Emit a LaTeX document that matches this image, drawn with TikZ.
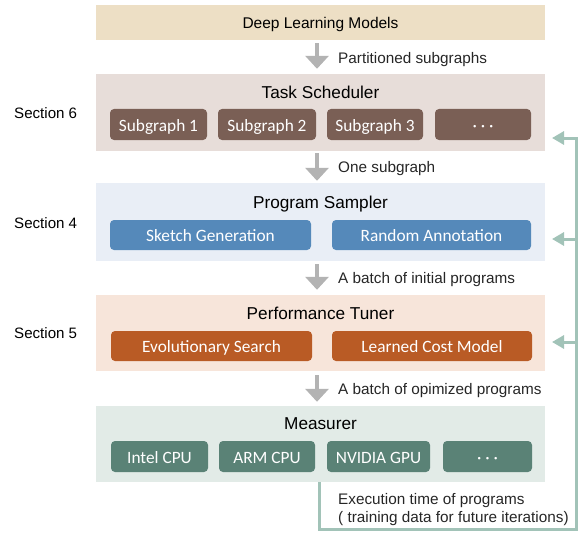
\documentclass[tikz,border=0pt]{standalone}
\usepackage{fontspec}
\setmainfont{Liberation Sans}
\newfontfamily\carlito{Carlito}
\usetikzlibrary{arrows.meta}
\definecolor{dlbg}{HTML}{EDDFC5}
\definecolor{tsbg}{HTML}{E7DDD9}
\definecolor{tssub}{HTML}{7A5F55}
\definecolor{psbg}{HTML}{E9EEF6}
\definecolor{pssub}{HTML}{5589BA}
\definecolor{ptbg}{HTML}{F7E5DA}
\definecolor{ptsub}{HTML}{B95B25}
\definecolor{msbg}{HTML}{E2EBE7}
\definecolor{mssub}{HTML}{5A8276}
\definecolor{fbcol}{HTML}{A2C3B8}
\definecolor{flowcol}{HTML}{B3B3B3}
\definecolor{labcol}{HTML}{262626}
\begin{document}
\begin{tikzpicture}[x=1pt,y=-1pt,
  layer/.style={draw=none, inner sep=0pt, minimum width=449pt},
  title/.style={anchor=base, inner sep=0pt, font=\fontsize{17.2}{20}\selectfont},
  sub/.style={rounded corners=4pt, inner sep=0pt, text height=13pt, text depth=0pt, text=white, font=\carlito\fontsize{17.3}{19}\selectfont},
  lab/.style={anchor=base west, inner sep=0pt, text=labcol, font=\fontsize{15.3}{18}\selectfont},
  flow/.style={draw=flowcol, line width=4pt, -{Triangle[length=13pt,width=23pt]}},
  fb/.style={draw=fbcol, line width=3pt},
  fbarrow/.style={draw=fbcol, line width=3pt, -{Triangle[length=12pt,width=13pt]}}
]
\useasboundingbox (0,0) rectangle (580,532);

% layers
\node[layer, fill=dlbg, minimum height=35pt] (dl) at (320.5,22.5) {};
\node[layer, fill=tsbg, minimum height=77pt] (ts) at (320.5,112.5) {};
\node[layer, fill=psbg, minimum height=78pt] (ps) at (320.5,222) {};
\node[layer, fill=ptbg, minimum height=76pt] (pt) at (320.5,333) {};
\node[layer, fill=msbg, minimum height=76pt] (ms) at (320.5,444) {};

% titles
\node[title, font=\fontsize{15.5}{18}\selectfont] (dlt) at (320.5,28.3) {Deep Learning Models};
\node[title] (tst) at (320.5,99) {Task Scheduler};
\node[title] (pst) at (320.5,208.3) {Program Sampler};
\node[title] (ptt) at (320.5,319) {Performance Tuner};
\node[title] (mst) at (320.5,429) {Measurer};

% task scheduler subs
\node[sub, fill=tssub, minimum width=97pt, minimum height=31pt] (sg1) at (158.5,124.5) {Subgraph 1};
\node[sub, fill=tssub, minimum width=98pt, minimum height=31pt] (sg2) at (267,124.5) {Subgraph 2};
\node[sub, fill=tssub, minimum width=96pt, minimum height=31pt] (sg3) at (375,124.5) {Subgraph 3};
\node[sub, fill=tssub, minimum width=96pt, minimum height=31pt] (sg4) at (483,124.5) {· · ·};

% program sampler subs
\node[sub, fill=pssub, minimum width=201pt, minimum height=30pt] (sk) at (210.5,235) {Sketch Generation};
\node[sub, fill=pssub, minimum width=199pt, minimum height=30pt] (ra) at (431.5,235) {Random Annotation};

% performance tuner subs
\node[sub, fill=ptsub, minimum width=201pt, minimum height=30pt] (es) at (211.5,346) {Evolutionary Search};
\node[sub, fill=ptsub, minimum width=200pt, minimum height=30pt] (lc) at (432,346) {Learned Cost Model};

% measurer subs
\node[sub, fill=mssub, minimum width=97pt, minimum height=31pt] (m1) at (159.5,456.5) {Intel CPU};
\node[sub, fill=mssub, minimum width=96pt, minimum height=31pt] (m2) at (267,456.5) {ARM CPU};
\node[sub, fill=mssub, minimum width=103pt, minimum height=31pt] (m3) at (378.5,456.5) {NVIDIA GPU};
\node[sub, fill=mssub, minimum width=89pt, minimum height=31pt] (m4) at (487.5,456.5) {· · ·};

% section labels
\node[lab, text=black, font=\fontsize{15.1}{18}\selectfont] (s6) at (14,118.3) {Section 6};
\node[lab, text=black, font=\fontsize{15.1}{18}\selectfont] (s4) at (14,228.3) {Section 4};
\node[lab, text=black, font=\fontsize{15.1}{18}\selectfont] (s5) at (14,338.3) {Section 5};

% flow arrows
\draw[flow] ([xshift=-3.5pt,yshift=-3pt]dl.south) -- ([xshift=-3.5pt,yshift=5pt]ts.north);
\draw[flow] ([xshift=-3.5pt,yshift=-2pt]ts.south) -- ([xshift=-3.5pt,yshift=2pt]ps.north);
\draw[flow] ([xshift=-3.5pt,yshift=-3pt]ps.south) -- ([xshift=-3.5pt,yshift=5pt]pt.north);
\draw[flow] ([xshift=-3.5pt,yshift=-4pt]pt.south) -- ([xshift=-3.5pt,yshift=4pt]ms.north);

% flow labels
\node[lab] (l1) at (338,63.3) {Partitioned subgraphs};
\node[lab] (l2) at (338,172.7) {One subgraph};
\node[lab] (l3) at (338,283.3) {A batch of initial programs};
\node[lab] (l4) at (338,394.3) {A batch of opimized programs};
\node[lab] (l5) at (338,504.3) {Execution time of programs};
\node[lab] (l6) at (338,522.7) {( training data for future iterations)};

% feedback
\coordinate (fbA) at (319,482);
\coordinate (fbB) at (319,529);
\coordinate (fbC) at (576,529);
\coordinate (fbD) at (576,136.5);
\coordinate (t1) at (552,138);
\coordinate (t2) at (552,239);
\coordinate (t3) at (552,342);
\draw[fb, line join=miter] (fbA) -- (fbB) -- (fbC) -- (fbD);
\draw[fbarrow] (fbC |- t1) -- (t1);
\draw[fbarrow] (fbC |- t2) -- (t2);
\draw[fbarrow] (fbC |- t3) -- (t3);
\end{tikzpicture}
\end{document}
